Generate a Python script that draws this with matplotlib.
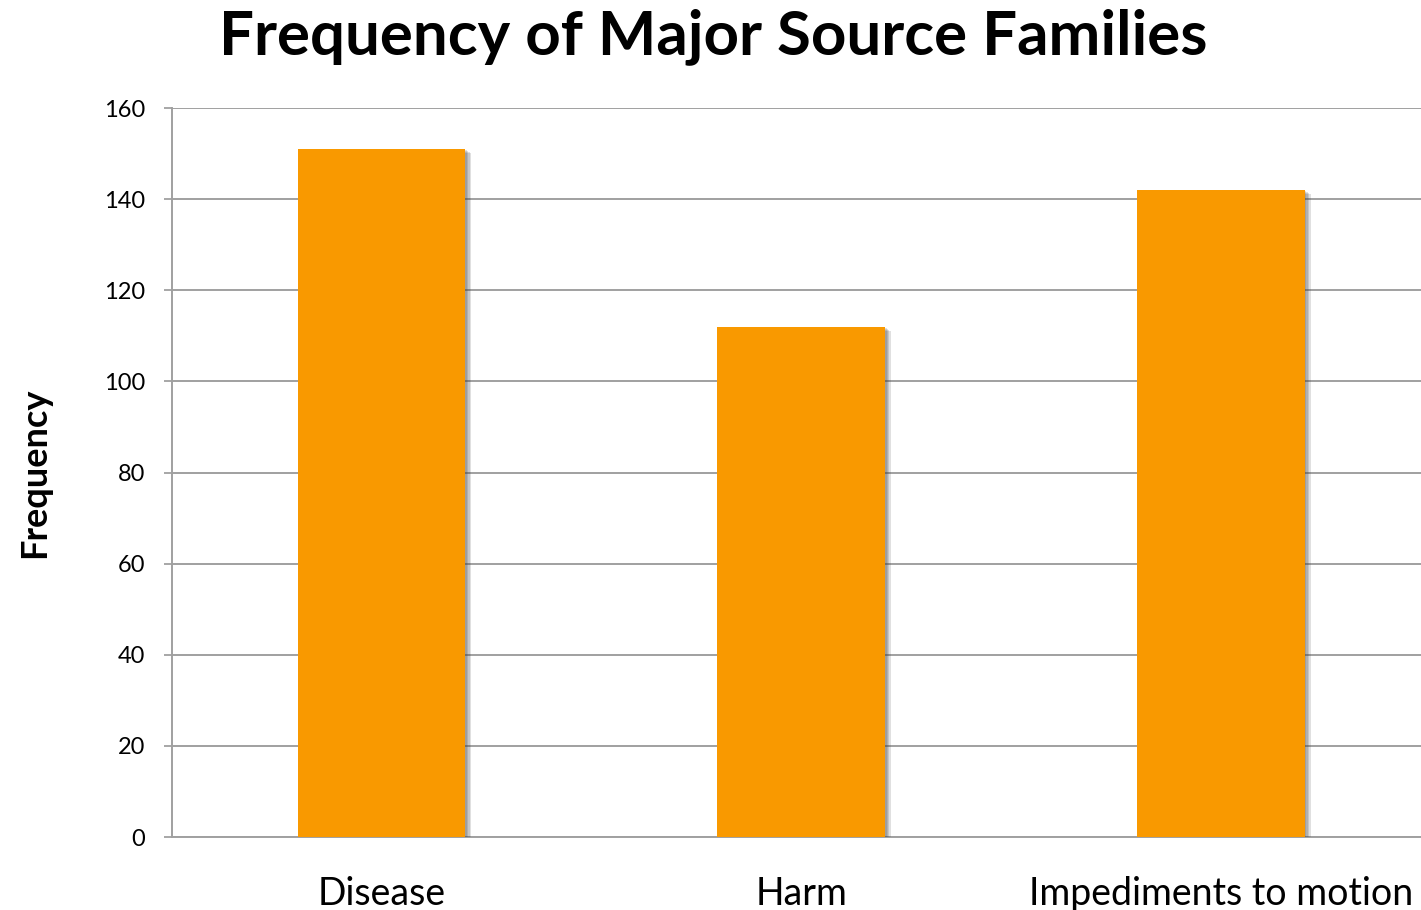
import matplotlib.pyplot as plt
import matplotlib.patheffects as pe

categories = ["Disease", "Harm", "Impediments to motion"]
frequency = [151, 112, 142]
yticks = [0, 20, 40, 60, 80, 100, 120, 140, 160]

plt.rcParams['font.family'] = ['Lato', 'DejaVu Sans']

fig = plt.figure(figsize=(14.21, 9.10), dpi=100)
ax = fig.add_axes([0.1208, 0.0802, 0.8862, 0.8011])

bars = ax.bar(range(len(categories)), frequency, width=0.4, color='#F99900', zorder=3)
# soft drop shadow: a few faint offset copies stacked up
shadow = [pe.SimplePatchShadow(offset=(d, -d * 0.7), shadow_rgbFace='#404040', alpha=0.16)
          for d in (1, 2, 3, 4)]
for b in bars:
    b.set_path_effects(shadow + [pe.Normal()])

ax.set_xlim(-0.5, 2.5)
ax.set_ylim(0, 160)
ax.set_yticks(yticks)
ax.set_yticklabels([str(t) for t in yticks], fontsize=17)
ax.set_xticks(range(len(categories)))
ax.set_xticklabels(categories, fontsize=27)
ax.tick_params(axis='x', length=0, pad=28)
ax.tick_params(axis='y', length=6, width=1.3, color='#a0a0a0', pad=13)

ax.grid(axis='y', color='#a0a0a0', linewidth=1.4, zorder=0)
ax.set_axisbelow(True)
for side in ['top', 'right']:
    ax.spines[side].set_visible(False)
for side in ['left', 'bottom']:
    ax.spines[side].set_color('#a0a0a0')
    ax.spines[side].set_linewidth(1.4)

ax.set_ylabel('Frequency', fontsize=26, fontweight='bold', labelpad=38)
fig.text(0.502, 0.96, 'Frequency of Major Source Families', ha='center', va='center',
         fontsize=44.5, fontweight='bold')

fig.savefig('out.png', dpi=100)
